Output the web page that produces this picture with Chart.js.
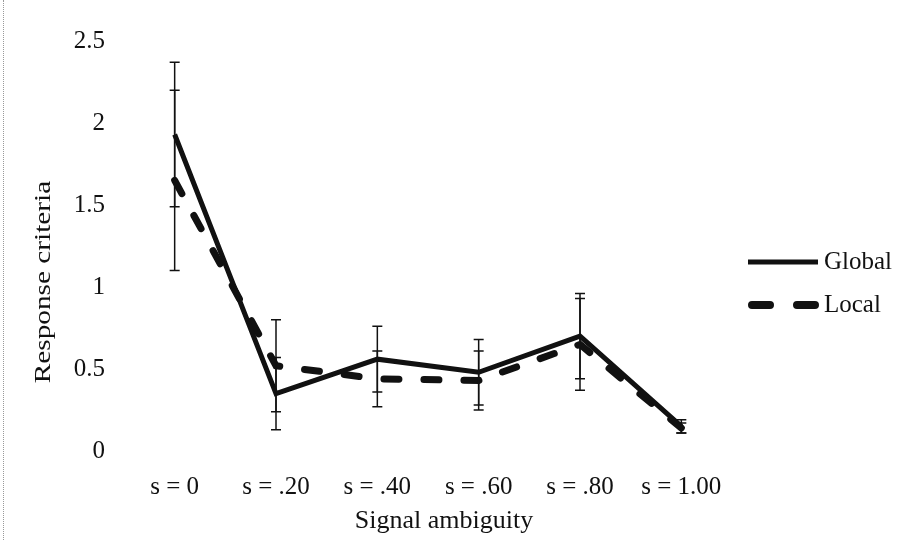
<!DOCTYPE html>
<html>
<head>
<meta charset="utf-8">
<script src="https://cdn.jsdelivr.net/npm/chart.js@4.4.0/dist/chart.umd.min.js"></script>
<style>
    html, body { margin: 0; padding: 0; background: #fff; }
    #wrap { position: relative; width: 897px; height: 540px; }
    #edge { position: absolute; left: 3px; top: 0; height: 540px; border-left: 1px dotted #999; }
</style>
</head>
<body>
<div id="wrap">
    <canvas id="chart" width="897" height="540"></canvas>
    <div id="edge"></div>
</div>
<script>
const labels = ['s = 0', 's = .20', 's = .40', 's = .60', 's = .80', 's = 1.00'];
const globalVals = [1.93, 0.35, 0.56, 0.48, 0.70, 0.15];
const globalErr = [0.44, 0.22, 0.20, 0.20, 0.26, 0.04];
const localVals = [1.65, 0.52, 0.44, 0.43, 0.65, 0.14];
const localErr = [0.55, 0.28, 0.17, 0.18, 0.28, 0.03];
const yTicks = ['0', '0.5', '1', '1.5', '2', '2.5'];

const serif = '"Liberation Serif", "Times New Roman", serif';

// error bars drawn from the dataset's own points and the y scale
const errorBars = {
    id: 'errorBars',
    afterDatasetsDraw(chart) {
        const ctx = chart.ctx;
        const y = chart.scales.y;
        chart.data.datasets.forEach((ds, i) => {
            const meta = chart.getDatasetMeta(i);
            ctx.save();
            ctx.strokeStyle = '#111';
            ctx.lineWidth = 1.5;
            meta.data.forEach((pt, j) => {
                const hi = y.getPixelForValue(ds.data[j] + ds.errors[j]);
                const lo = y.getPixelForValue(ds.data[j] - ds.errors[j]);
                ctx.beginPath();
                ctx.moveTo(pt.x, hi);
                ctx.lineTo(pt.x, lo);
                ctx.moveTo(pt.x - 5, hi);
                ctx.lineTo(pt.x + 5, hi);
                ctx.moveTo(pt.x - 5, lo);
                ctx.lineTo(pt.x + 5, lo);
                ctx.stroke();
            });
            ctx.restore();
        });
    },
};

// legend on the right and the two axis titles
const extras = {
    id: 'extras',
    afterDraw(chart) {
        const ctx = chart.ctx;
        ctx.save();
        ctx.fillStyle = '#111';
        ctx.font = '26px ' + serif;
        ctx.textAlign = 'center';
        ctx.textBaseline = 'middle';
        ctx.fillText('Signal ambiguity', 444, 521);

        ctx.save();
        ctx.translate(44, 282);
        ctx.rotate(-Math.PI / 2);
        ctx.scale(1.22, 1);
        ctx.font = '24px ' + serif;
        ctx.fillText('Response criteria', 0, 0);
        ctx.restore();

        ctx.textAlign = 'left';
        ctx.font = '25px ' + serif;
        chart.data.datasets.forEach((ds, i) => {
            const ly = 262 + i * 43;
            ctx.save();
            ctx.strokeStyle = '#111';
            ctx.lineWidth = ds.legendWidth;
            ctx.lineCap = ds.borderDash.length ? 'round' : 'butt';
            ctx.setLineDash(ds.legendDash);
            ctx.beginPath();
            ctx.moveTo(ds.borderDash.length ? 752 : 748, ly);
            ctx.lineTo(818, ly);
            ctx.stroke();
            ctx.restore();
            ctx.fillText(ds.label, 824, ly);
        });
        ctx.restore();
    },
};

new Chart(document.getElementById('chart'), {
    type: 'line',
    data: {
        labels,
        datasets: [
            {
                label: 'Global',
                data: globalVals,
                errors: globalErr,
                borderColor: '#111',
                borderWidth: 5,
                borderDash: [],
                legendDash: [],
                legendWidth: 5,
                pointRadius: 0,
                tension: 0,
            },
            {
                label: 'Local',
                data: localVals,
                errors: localErr,
                borderColor: '#111',
                borderWidth: 7,
                borderDash: [15, 25],
                borderCapStyle: 'round',
                legendDash: [18, 27],
                legendWidth: 8,
                pointRadius: 0,
                tension: 0,
            },
        ],
    },
    options: {
        responsive: false,
        animation: false,
        devicePixelRatio: 1,
        layout: { padding: { left: 0, right: 165, top: 41, bottom: 0 } },
        plugins: { legend: { display: false }, tooltip: { enabled: false } },
        scales: {
            x: {
                offset: true,
                grid: { display: false, drawTicks: false, offset: true },
                border: { display: false },
                ticks: { color: '#111', font: { family: serif, size: 25 }, padding: 21, maxRotation: 0 },
                afterFit: (s) => { s.height = 89; },
            },
            y: {
                min: 0,
                max: 2.5,
                grid: { display: false, drawTicks: false },
                border: { display: false },
                ticks: {
                    stepSize: 0.5,
                    color: '#111',
                    font: { family: serif, size: 25 },
                    padding: 19,
                    callback: (v, i) => yTicks[i],
                },
                afterFit: (s) => { s.width = 124; },
            },
        },
    },
    plugins: [errorBars, extras],
});
</script>
</body>
</html>
